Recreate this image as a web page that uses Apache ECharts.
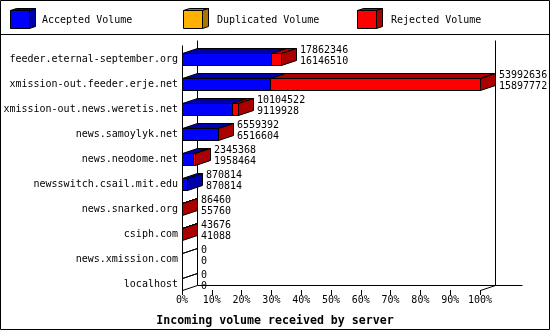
<!DOCTYPE html>
<html>
<head>
<meta charset="utf-8">
<script src="https://cdn.jsdelivr.net/npm/echarts@6/dist/echarts.min.js"></script>
<style>html,body{margin:0;padding:0;background:#fff}#c{width:550px;height:330px}</style>
</head>
<body>
<div id="c"></div>
<script>
const categories = ['feeder.eternal-september.org', 'xmission-out.feeder.erje.net', 'xmission-out.news.weretis.net', 'news.samoylyk.net', 'news.neodome.net', 'newsswitch.csail.mit.edu', 'news.snarked.org', 'csiph.com', 'news.xmission.com', 'localhost'];
const totalVolume = [17862346, 53992636, 10104522, 6559392, 2345368, 870814, 86460, 43676, 0, 0];
const acceptedVolume = [16146510, 15897772, 9119928, 6516604, 1958464, 870814, 55760, 41088, 0, 0];
const duplicatedVolume = [0, 0, 0, 0, 0, 0, 0, 0, 0, 0];
const seriesNames = ['Accepted Volume', 'Duplicated Volume', 'Rejected Volume'];
const xTickValues = [0, 10, 20, 30, 40, 50, 60, 70, 80, 90, 100];
const titleText = 'Incoming volume received by server';

const FRONT = ['#0000ff', '#ffb000', '#ff0000'];
const DARK = ['#0000aa', '#aa7500', '#aa0000'];
const DX = 15, DY = 5, FH = 12;
const FONT = '10px "DejaVu Sans Mono"';

const maxTotal = Math.max.apply(null, totalVolume);
const rejectedVolume = totalVolume.map((t, i) => t - acceptedVolume[i] - duplicatedVolume[i]);
const parts = [acceptedVolume, duplicatedVolume, rejectedVolume];

// build segment data: [start%, end%, cat, isLast, draw]
const segData = [[], [], []];
categories.forEach((c, i) => {
  let start = 0;
  let lastIdx = -1;
  parts.forEach((p, k) => { if (p[i] > 0) lastIdx = k; });
  parts.forEach((p, k) => {
    const w = p[i] / maxTotal * 100;
    const draw = (k === 0) || w > 0 ? 1 : 0;
    segData[k].push([start, start + w, i, k === lastIdx ? 1 : 0, draw]);
    start += w;
  });
});

function segRender(k) {
  return function (params, api) {
    if (!api.value(4)) return;
    const s = api.value(0), e = api.value(1), cat = api.value(2), isLast = api.value(3);
    const p0 = api.coord([s, cat]);
    const p1 = api.coord([e, cat]);
    const x0 = Math.round(p0[0]) + 0.5, x1 = Math.round(p1[0]) + 0.5;
    const yT = Math.round(p0[1] + 0.5) + 0.5, yB = yT + FH;
    const children = [];
    const ln = { stroke: '#000', lineWidth: 1 };
    if (e > s) {
      children.push({ type: 'polygon', shape: { points: [[x0, yT], [x1, yT], [x1, yB], [x0, yB]] }, style: Object.assign({ fill: FRONT[k] }, ln) });
    }
    children.push({ type: 'polygon', shape: { points: [[x0, yT], [x0 + DX, yT - DY], [x1 + DX, yT - DY], [x1, yT]] }, style: Object.assign({ fill: e > s ? DARK[k] : 'none' }, ln) });
    if (isLast) {
      children.push({ type: 'polygon', shape: { points: [[x1, yT], [x1 + DX, yT - DY], [x1 + DX, yB - DY], [x1, yB]] }, style: Object.assign({ fill: DARK[k] }, ln) });
    }
    return { type: 'group', children: children };
  };
}

const labelData = categories.map((c, i) => [totalVolume[i] / maxTotal * 100, i, totalVolume[i], acceptedVolume[i]]);

function labelRender(params, api) {
  const p = api.coord([api.value(0), api.value(1)]);
  const x = Math.round(p[0]) + DX + 4;
  const yT = Math.round(p[1] + 0.5);
  return {
    type: 'group', children: [
      { type: 'text', style: { text: String(api.value(2)), x: x, y: yT - 3, font: FONT, fill: '#000', verticalAlign: 'middle' } },
      { type: 'text', style: { text: String(api.value(3)), x: x, y: yT + 8, font: FONT, fill: '#000', verticalAlign: 'middle' } }
    ]
  };
}

function frameRender(params, api) {
  const cs = params.coordSys;
  const x = Math.round(cs.x) + 0.5, y = Math.round(cs.y) + 0.5;
  const w = Math.round(cs.width), h = Math.round(cs.height);
  const st = { stroke: '#000', lineWidth: 1 };
  const L = (a, b, c, d) => ({ type: 'line', shape: { x1: a, y1: b, x2: c, y2: d }, style: st });
  return {
    type: 'group', children: [
      L(x, y + DY, x, y + h),
      L(x + DX, y, x + DX, y + h - DY),
      L(x + w + DX, y, x + w + DX, y + h - DY),
      L(x + DX, y + h - DY, x + w + DX + 27, y + h - DY),
      L(x, y + h, x + DX, y + h - DY),
      L(x + w, y + h, x + w + DX, y + h - DY)
    ]
  };
}

// legend graphics
function cube(x, y, k) {
  const st = { stroke: '#000', lineWidth: 1 };
  const w = 19, h = 18, dx = 6, dy = 2;
  return [
    { type: 'polygon', shape: { points: [[x, y], [x + dx, y - dy], [x + w + dx, y - dy], [x + w, y]] }, style: Object.assign({ fill: DARK[k] }, st) },
    { type: 'polygon', shape: { points: [[x + w, y], [x + w + dx, y - dy], [x + w + dx, y + h - dy], [x + w, y + h]] }, style: Object.assign({ fill: DARK[k] }, st) },
    { type: 'rect', shape: { x: x, y: y, width: w, height: h }, style: Object.assign({ fill: FRONT[k] }, st) }
  ];
}
const legendX = [10.5, 183.5, 357.5];
const legendTextX = [42, 217, 391];
let graphics = [
  { type: 'rect', shape: { x: 0.5, y: 0.5, width: 549, height: 329 }, style: { fill: 'none', stroke: '#000', lineWidth: 1 }, z: 10 },
  { type: 'line', shape: { x1: 0, y1: 34.5, x2: 550, y2: 34.5 }, style: { stroke: '#000', lineWidth: 1 }, z: 10 }
];
seriesNames.forEach((n, k) => {
  graphics = graphics.concat(cube(legendX[k], 10.5, k));
  graphics.push({ type: 'text', style: { text: n, x: legendTextX[k], y: 20, font: FONT, fill: '#000', verticalAlign: 'middle' } });
});

const chart = echarts.init(document.getElementById('c'), null, { renderer: 'canvas' });
chart.setOption({
  animation: false,
  backgroundColor: '#fff',
  title: {
    text: titleText, left: 'center', top: 310,
    textStyle: { fontFamily: 'DejaVu Sans Mono', fontWeight: 'bold', fontSize: 11.6, color: '#000' }
  },
  grid: { left: 182, right: 70, top: 40, bottom: 40, containLabel: false },
  xAxis: {
    type: 'value', min: 0, max: 100, interval: 10,
    axisLine: { show: false },
    axisTick: { show: true, length: 5, lineStyle: { color: '#000' } },
    splitLine: { show: false },
    axisLabel: { formatter: '{value}%', color: '#000', fontFamily: 'DejaVu Sans Mono', fontSize: 10, margin: 5 }
  },
  yAxis: {
    type: 'category', data: categories, inverse: true,
    axisLine: { show: false }, axisTick: { show: false }, splitLine: { show: false },
    axisLabel: { color: '#000', fontFamily: 'DejaVu Sans Mono', fontSize: 10, margin: 4, verticalAlign: 'top', lineHeight: 13 }
  },
  graphic: graphics,
  series: [
    { type: 'custom', name: 'frame', renderItem: frameRender, data: [[0, 0]], silent: true },
    { type: 'custom', name: seriesNames[0], renderItem: segRender(0), data: segData[0] },
    { type: 'custom', name: seriesNames[1], renderItem: segRender(1), data: segData[1] },
    { type: 'custom', name: seriesNames[2], renderItem: segRender(2), data: segData[2] },
    { type: 'custom', name: 'labels', renderItem: labelRender, data: labelData, silent: true }
  ]
});
</script>
</body>
</html>
